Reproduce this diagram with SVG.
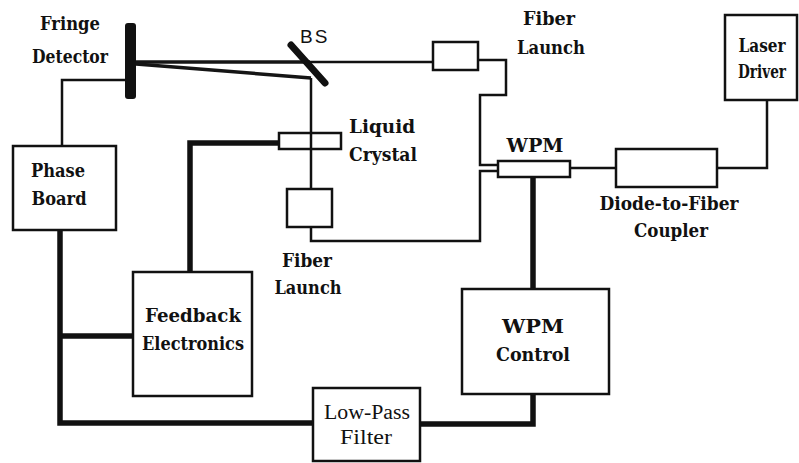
<svg xmlns="http://www.w3.org/2000/svg" width="799" height="463" viewBox="0 0 799 463">
<style>
.box{fill:#fff;stroke:#111;stroke-width:2.5}
.thin{fill:none;stroke:#111;stroke-width:2.5}
.thick{fill:none;stroke:#111;stroke-width:5.5}
.beam{fill:none;stroke:#151515;stroke-width:3.5}
.lb{font-family:"DejaVu Serif","Liberation Serif",serif;font-weight:bold;font-size:18px;fill:#111}
.lr{font-family:"Liberation Serif","DejaVu Serif","Times New Roman",serif;font-size:20px;fill:#111}
.ls{font-family:"Liberation Sans","DejaVu Sans",Arial,sans-serif;font-size:19px;fill:#111}
</style>
<rect width="799" height="463" fill="#fff"/>
<g id="connectors">
  <path class="beam" d="M136,62 H310"/>
  <path class="thin" d="M310,62 H433"/>
  <path class="beam" d="M136,64 L311,78" stroke-width="3"/>
  <path class="thin" d="M311,78 V189"/>
  <path class="thin" d="M478,60 H506 V95 H480 V165 H498"/>
  <path class="thin" d="M311,227 V241 H480 V171 H498"/>
  <path class="thin" d="M570,168 H616"/>
  <path class="thin" d="M717,168 H767 V100"/>
  <path class="thin" d="M125,80 H62 V146" stroke-width="3"/>
  <path class="thick" d="M279,143 H190 V272"/>
  <path class="thick" d="M533,177 V289"/>
  <path class="thick" d="M533,394 V424 H420"/>
  <path class="thick" d="M313,423 H60 V230"/>
  <path class="thick" d="M60,336 H133"/>
</g>
<g id="fringe-detector">
  <rect x="125" y="23" width="11" height="76" rx="3" fill="#111"/>
  <text class="lb" x="70" y="30" text-anchor="middle" textLength="60" lengthAdjust="spacingAndGlyphs">Fringe</text>
  <text class="lb" x="70" y="63" text-anchor="middle" textLength="76" lengthAdjust="spacingAndGlyphs">Detector</text>
</g>
<g id="beam-splitter">
  <line x1="291" y1="45" x2="325" y2="83" stroke="#111" stroke-width="7" stroke-linecap="round"/>
  <text class="ls" x="300" y="43" letter-spacing="2">BS</text>
</g>
<g id="phase-board">
  <rect class="box" x="13" y="146" width="103" height="84"/>
  <text class="lb" x="58" y="177" text-anchor="middle" textLength="54" lengthAdjust="spacingAndGlyphs">Phase</text>
  <text class="lb" x="59" y="205" text-anchor="middle" textLength="55" lengthAdjust="spacingAndGlyphs">Board</text>
</g>
<g id="liquid-crystal">
  <rect x="279" y="133" width="62" height="16" fill="none" stroke="#111" stroke-width="2.5"/>
  <text class="lb" x="349" y="133" textLength="66" lengthAdjust="spacingAndGlyphs">Liquid</text>
  <text class="lb" x="349" y="161" textLength="68" lengthAdjust="spacingAndGlyphs">Crystal</text>
</g>
<g id="fiber-launch-lower">
  <rect class="box" x="287" y="189" width="45" height="38"/>
  <text class="lb" x="307" y="267" text-anchor="middle" textLength="50" lengthAdjust="spacingAndGlyphs">Fiber</text>
  <text class="lb" x="308" y="294" text-anchor="middle" textLength="67" lengthAdjust="spacingAndGlyphs">Launch</text>
</g>
<g id="fiber-launch-upper">
  <rect class="box" x="433" y="42" width="45" height="28"/>
  <text class="lb" x="549" y="25" text-anchor="middle" textLength="52" lengthAdjust="spacingAndGlyphs">Fiber</text>
  <text class="lb" x="551" y="54" text-anchor="middle" textLength="68" lengthAdjust="spacingAndGlyphs">Launch</text>
</g>
<g id="wpm">
  <rect class="box" x="498" y="161" width="72" height="16"/>
  <text class="lb" x="535" y="152" text-anchor="middle" textLength="57" lengthAdjust="spacingAndGlyphs">WPM</text>
</g>
<g id="diode-to-fiber-coupler">
  <rect class="box" x="616" y="149" width="101" height="38"/>
  <text class="lb" x="669" y="210" text-anchor="middle" textLength="139" lengthAdjust="spacingAndGlyphs">Diode-to-Fiber</text>
  <text class="lb" x="671" y="237" text-anchor="middle" textLength="74" lengthAdjust="spacingAndGlyphs">Coupler</text>
</g>
<g id="laser-driver">
  <rect class="box" x="725" y="15" width="72" height="85"/>
  <text class="lb" x="762" y="52" text-anchor="middle" font-size="16" textLength="47" lengthAdjust="spacingAndGlyphs">Laser</text>
  <text class="lb" x="762" y="78" text-anchor="middle" font-size="15" textLength="48" lengthAdjust="spacingAndGlyphs">Driver</text>
</g>
<g id="feedback-electronics">
  <rect class="box" x="133" y="272" width="119" height="124"/>
  <text class="lb" x="193" y="322" text-anchor="middle" textLength="96" lengthAdjust="spacingAndGlyphs">Feedback</text>
  <text class="lb" x="193" y="350" text-anchor="middle" textLength="102" lengthAdjust="spacingAndGlyphs">Electronics</text>
</g>
<g id="wpm-control">
  <rect class="box" x="462" y="289" width="147" height="105"/>
  <text class="lb" x="533" y="333" text-anchor="middle" textLength="62" lengthAdjust="spacingAndGlyphs">WPM</text>
  <text class="lb" x="533" y="361" text-anchor="middle" textLength="74" lengthAdjust="spacingAndGlyphs">Control</text>
</g>
<g id="low-pass-filter">
  <rect class="box" x="313" y="388" width="107" height="73" stroke-width="2"/>
  <text class="lr" x="367" y="419" text-anchor="middle" textLength="86" lengthAdjust="spacingAndGlyphs">Low-Pass</text>
  <text class="lr" x="366" y="444" text-anchor="middle" textLength="52" lengthAdjust="spacingAndGlyphs">Filter</text>
</g>
</svg>
